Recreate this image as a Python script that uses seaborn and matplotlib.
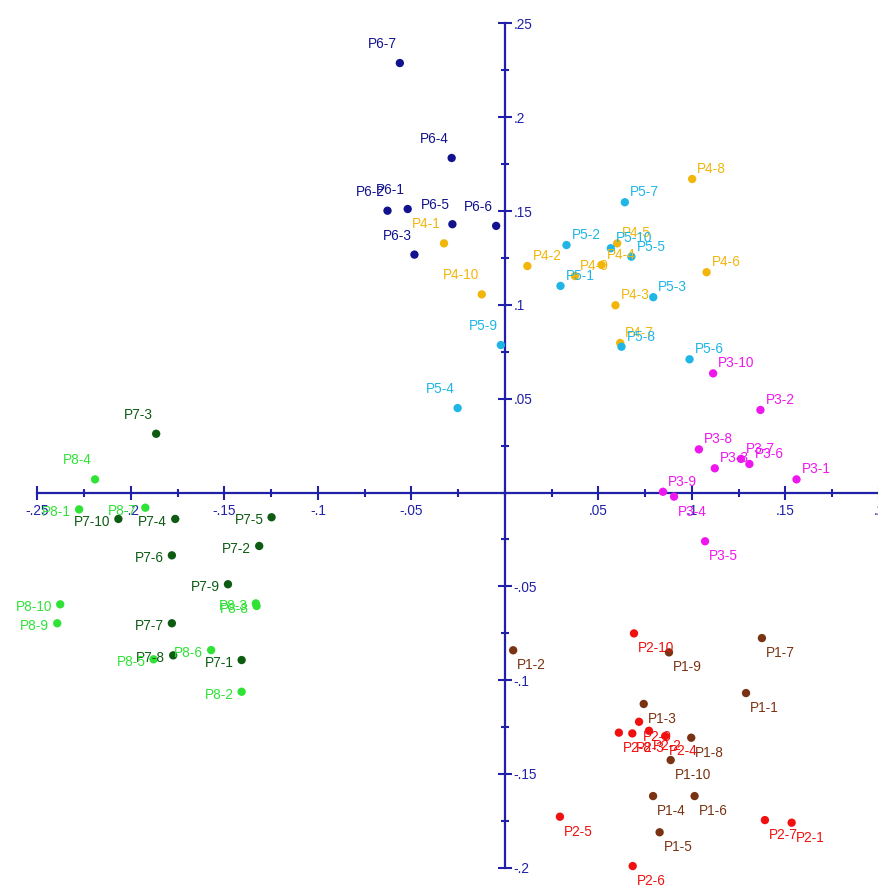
import numpy as np
import pandas as pd
import matplotlib
matplotlib.use("Agg")
import matplotlib.pyplot as plt
from matplotlib.ticker import MultipleLocator, FuncFormatter
import seaborn as sns

# ---------------- data ----------------
p1_names = ["P1-1", "P1-2", "P1-3", "P1-4", "P1-5", "P1-6", "P1-7", "P1-8", "P1-9", "P1-10"]
p1_x = [0.1289, 0.0044, 0.0742, 0.0792, 0.0827, 0.1014, 0.1374, 0.0996, 0.0877, 0.0886]
p1_y = [-0.1069, -0.0841, -0.1127, -0.1618, -0.1811, -0.1618, -0.0776, -0.1307, -0.0852, -0.1426]

p2_names = ["P2-1", "P2-2", "P2-3", "P2-4", "P2-5", "P2-6", "P2-7", "P2-8", "P2-9", "P2-10"]
p2_x = [0.1533, 0.0770, 0.0681, 0.0857, 0.0294, 0.0683, 0.1390, 0.0609, 0.0717, 0.0690]
p2_y = [-0.1760, -0.1270, -0.1284, -0.1298, -0.1728, -0.1991, -0.1746, -0.1280, -0.1222, -0.0751]

p3_names = ["P3-1", "P3-2", "P3-3", "P3-4", "P3-5", "P3-6", "P3-7", "P3-8", "P3-9", "P3-10"]
p3_x = [0.1559, 0.1366, 0.1122, 0.0904, 0.1070, 0.1307, 0.1262, 0.1037, 0.0845, 0.1113]
p3_y = [0.0070, 0.0440, 0.0129, -0.0022, -0.0260, 0.0152, 0.0179, 0.0230, 0.0004, 0.0635]

p4_names = ["P4-1", "P4-2", "P4-3", "P4-4", "P4-5", "P4-6", "P4-7", "P4-8", "P4-9", "P4-10"]
p4_x = [-0.0326, 0.0120, 0.0591, 0.0516, 0.0600, 0.1078, 0.0616, 0.1001, 0.0374, -0.0124]
p4_y = [0.1328, 0.1207, 0.0998, 0.1213, 0.1328, 0.1174, 0.0797, 0.1671, 0.1154, 0.1056]

p5_names = ["P5-1", "P5-2", "P5-3", "P5-4", "P5-5", "P5-6", "P5-7", "P5-8", "P5-9", "P5-10"]
p5_x = [0.0297, 0.0329, 0.0793, -0.0253, 0.0676, 0.0987, 0.0641, 0.0623, -0.0022, 0.0566]
p5_y = [0.1101, 0.1319, 0.1041, 0.0450, 0.1257, 0.0710, 0.1547, 0.0777, 0.0786, 0.1302]

p6_names = ["P6-1", "P6-2", "P6-3", "P6-4", "P6-5", "P6-6", "P6-7"]
p6_x = [-0.0520, -0.0628, -0.0484, -0.0285, -0.0281, -0.0047, -0.0562]
p6_y = [0.1511, 0.1502, 0.1268, 0.1783, 0.1430, 0.1421, 0.2289]

p7_names = ["P7-1", "P7-2", "P7-3", "P7-4", "P7-5", "P7-6", "P7-7", "P7-8", "P7-9", "P7-10"]
p7_x = [-0.1408, -0.1314, -0.1865, -0.1763, -0.1248, -0.1781, -0.1781, -0.1774, -0.1481, -0.2067]
p7_y = [-0.0893, -0.0285, 0.0313, -0.0141, -0.0132, -0.0335, -0.0697, -0.0868, -0.0489, -0.0141]

p8_names = ["P8-1", "P8-2", "P8-3", "P8-4", "P8-5", "P8-6", "P8-7", "P8-8", "P8-9", "P8-10"]
p8_x = [-0.2277, -0.1408, -0.1332, -0.2192, -0.1879, -0.1571, -0.1923, -0.1328, -0.2394, -0.2378]
p8_y = [-0.0090, -0.1062, -0.0591, 0.0070, -0.0889, -0.0840, -0.0081, -0.0605, -0.0697, -0.0596]

groups = ["P1", "P2", "P3", "P4", "P5", "P6", "P7", "P8"]
group_colors = ["#7a3312", "#f01010", "#ee18ee", "#f2b50a", "#1fb6e6", "#12128e", "#0d5c12", "#2fe336"]

x_ticks = [-0.25, -0.2, -0.15, -0.1, -0.05, 0.05, 0.1, 0.15, 0.2]
y_ticks = [-0.2, -0.15, -0.1, -0.05, 0.05, 0.1, 0.15, 0.2, 0.25]

# ---------------- table ----------------
frames = []
for g, n, xs, ys in zip(groups,
                        [p1_names, p2_names, p3_names, p4_names, p5_names, p6_names, p7_names, p8_names],
                        [p1_x, p2_x, p3_x, p4_x, p5_x, p6_x, p7_x, p8_x],
                        [p1_y, p2_y, p3_y, p4_y, p5_y, p6_y, p7_y, p8_y]):
    frames.append(pd.DataFrame({"name": n, "x": xs, "y": ys, "group": g}))
df = pd.concat(frames, ignore_index=True)
palette = dict(zip(groups, group_colors))

# ---------------- figure ----------------
sns.set_theme(style="white")
plt.rcParams["font.family"] = ["Liberation Sans", "DejaVu Sans"]

fig = plt.figure(figsize=(8.79, 8.85), dpi=100)
ax = fig.add_axes([0, 0, 1, 1])
ax.set_facecolor("white")

axis_color = "#2020a8"

sns.scatterplot(data=df, x="x", y="y", hue="group", palette=palette, hue_order=groups,
                s=36, linewidth=0, legend=False, ax=ax, zorder=3)

# labels placed by quadrant
for _, r in df.iterrows():
    c = palette[r["group"]]
    if r["x"] >= 0 and r["y"] >= 0:
        off, ha, va = (5, 3), "left", "bottom"
    elif r["x"] < 0 and r["y"] >= 0:
        off, ha, va = (-3, 12), "right", "bottom"
    elif r["x"] < 0:
        off, ha, va = (-8, -3), "right", "center"
    else:
        off, ha, va = (4, -8), "left", "top"
    ax.annotate(r["name"], (r["x"], r["y"]), xytext=off, textcoords="offset pixels",
                ha=ha, va=va, fontsize=9.8, color=c, zorder=4)

ax.set_xlim(-0.27, 0.1986)
ax.set_ylim(-0.2092, 0.2625)

for s in ["top", "left"]:
    ax.spines[s].set_visible(False)
ax.spines["bottom"].set_position(("data", 0))
ax.spines["right"].set_position(("data", 0))
ax.spines["bottom"].set_bounds(-0.25, 0.2)
ax.spines["right"].set_bounds(-0.2, 0.25)
for s in ["bottom", "right"]:
    ax.spines[s].set_color(axis_color)
    ax.spines[s].set_linewidth(1.6)
    ax.spines[s].set_zorder(2)

ax.yaxis.tick_right()
ax.xaxis.tick_bottom()
ax.set_xticks(x_ticks)
ax.set_yticks(y_ticks)
ax.xaxis.set_minor_locator(MultipleLocator(0.025))
ax.yaxis.set_minor_locator(MultipleLocator(0.025))

def fmt(v, pos=None):
    s = f"{v:g}"
    s = s.replace("0.", ".")
    return s

ax.xaxis.set_major_formatter(FuncFormatter(fmt))
ax.yaxis.set_major_formatter(FuncFormatter(fmt))
ax.tick_params(axis="x", which="major", direction="inout", length=10, width=1.5,
               color=axis_color, labelcolor=axis_color, labelsize=9.8, pad=3)
ax.tick_params(axis="y", which="major", direction="inout", length=10, width=1.5,
               color=axis_color, labelcolor=axis_color, labelsize=9.8, pad=1)
ax.tick_params(axis="both", which="minor", direction="inout", length=6, width=1.5,
               color=axis_color)
ax.set_xlabel("")
ax.set_ylabel("")
ax.grid(False)

fig.savefig("out.png", dpi=100, facecolor="white")
